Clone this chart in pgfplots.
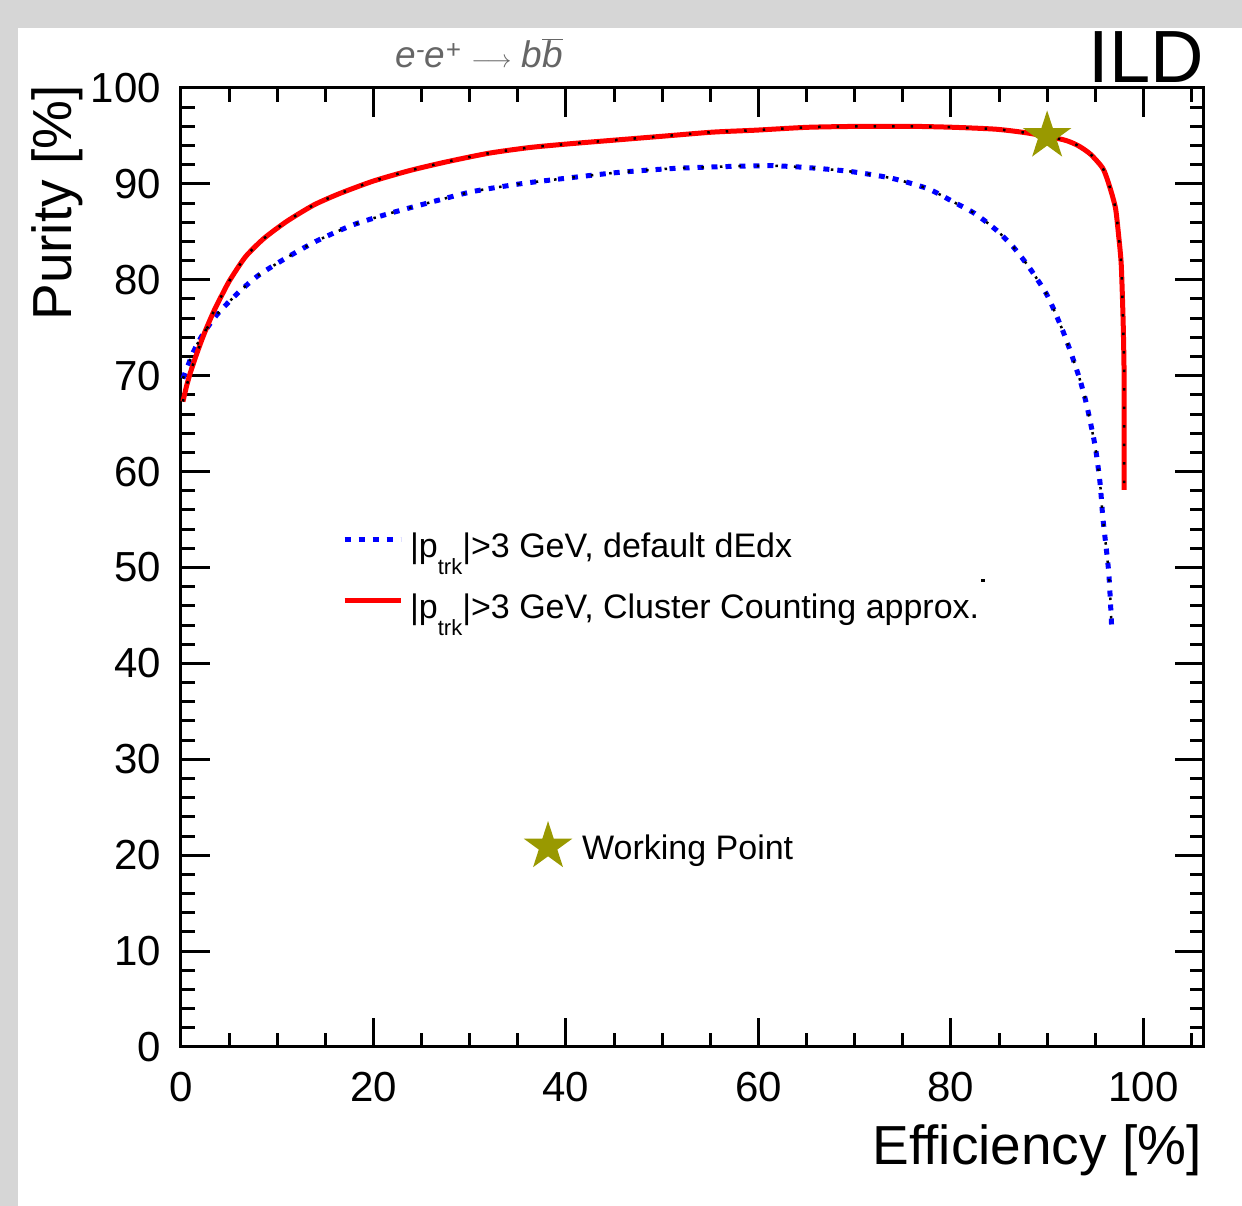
\documentclass[border=0pt]{standalone}
\usepackage{fontspec}
\setmainfont{Liberation Sans}
\usepackage{pgfplots}
\usepackage{pgfplotstable}
\pgfplotsset{compat=1.18}

\definecolor{framegray}{RGB}{214,214,214}
\definecolor{wpolive}{RGB}{153,153,0}
\definecolor{titlegray}{RGB}{102,102,102}

% filled five-pointed star (ROOT marker 29)
\pgfdeclareplotmark{fstar}{%
  \pgfpathmoveto{\pgfpointpolar{90}{\pgfplotmarksize}}%
  \pgfpathlineto{\pgfpointpolar{126}{0.382\pgfplotmarksize}}%
  \pgfpathlineto{\pgfpointpolar{162}{\pgfplotmarksize}}%
  \pgfpathlineto{\pgfpointpolar{198}{0.382\pgfplotmarksize}}%
  \pgfpathlineto{\pgfpointpolar{234}{\pgfplotmarksize}}%
  \pgfpathlineto{\pgfpointpolar{270}{0.382\pgfplotmarksize}}%
  \pgfpathlineto{\pgfpointpolar{306}{\pgfplotmarksize}}%
  \pgfpathlineto{\pgfpointpolar{342}{0.382\pgfplotmarksize}}%
  \pgfpathlineto{\pgfpointpolar{18}{\pgfplotmarksize}}%
  \pgfpathlineto{\pgfpointpolar{54}{0.382\pgfplotmarksize}}%
  \pgfpathclose\pgfusepathqfill}

% |p_trk|>3 GeV, default dEdx
\pgfplotstableread{
eff pur
0.2 69.7
1.3 72.5
2.2 74.2
3.3 75.8
4.2 76.9
6.1 78.8
8.1 80.5
10.8 82.2
14.0 84.0
17.8 85.7
21.6 86.9
26.0 88.1
30.3 89.2
35.2 90.0
40.1 90.6
45.5 91.2
51.0 91.6
56.4 91.8
61.3 91.9
65.1 91.7
69.5 91.3
73.8 90.6
77.6 89.5
80.3 88.1
82.5 86.9
84.7 85.2
86.5 83.4
88.2 81.2
90.0 78.4
91.5 75.0
92.4 72.6
93.4 69.6
94.1 67.0
95.0 62.6
95.5 58.8
95.8 55.1
96.4 49.5
96.7 43.9
}\dedx

% |p_trk|>3 GeV, Cluster Counting approx.
\pgfplotstableread{
eff pur
0.2 67.3
0.6 69.0
1.0 70.4
1.5 71.9
2.0 73.3
2.5 74.6
3.4 76.7
4.4 78.7
5.1 80.0
6.7 82.4
8.6 84.3
11.0 86.1
13.8 87.8
16.5 89.0
20.0 90.3
23.8 91.4
27.6 92.3
32.0 93.2
36.3 93.8
40.6 94.2
45.5 94.6
50.4 95.0
55.3 95.4
59.7 95.6
65.1 95.9
70.6 96.0
76.0 96.0
80.3 95.9
84.7 95.7
88.0 95.3
91.7 94.6
93.2 94.0
94.5 93.1
95.8 91.6
96.5 89.7
97.1 87.5
97.4 84.9
97.7 81.6
97.9 75.6
98.0 70.0
98.0 62.6
98.0 58.1
}\clucount

\begin{document}
\begin{tikzpicture}
\fill[framegray] (-181pt,-159pt) rectangle (1061pt,1047pt);
\fill[white] (-163pt,-159pt) rectangle (1061pt,1019pt);
\begin{axis}[
  at={(0pt,0pt)}, anchor=south west,
  scale only axis,
  width=1023pt, height=959pt,
  xmin=0, xmax=106.3, ymin=0, ymax=100,
  clip=false,
  xtick={0,20,...,100}, ytick={0,10,...,100},
  minor xtick={5,10,...,105}, minor ytick={2,4,...,98},
  tick align=inside,
  major tick length=29pt, minor tick length=14pt,
  tick style={line width=3pt, black},
  axis line style={line width=3pt},
  /pgf/number format/assume math mode=true,
  xticklabel style={font=\fontsize{42}{42}\selectfont, anchor=north, inner sep=0pt, yshift=-25pt},
  yticklabel style={font=\fontsize{42}{42}\selectfont, anchor=east, inner sep=0pt, xshift=-20pt},
  xlabel={Efficiency [\%]},
  xlabel style={at={(rel axis cs:0.998,-0.123)}, anchor=base east, inner sep=0pt, font=\fontsize{55}{55}\selectfont},
  ylabel={Purity [\%]},
  ylabel style={at={(rel axis cs:-0.1075,1.003)}, anchor=base east, inner sep=0pt, font=\fontsize{55}{55}\selectfont},
  legend style={at={(axis cs:16.74,53.8)}, anchor=north west, draw=none, fill=none,
    inner sep=0pt, outer sep=0pt, row sep=21pt, column sep=7pt,
    font=\fontsize{34}{34}\selectfont,
    nodes={inner sep=0pt, text height=26pt, text depth=14pt}},
  legend cell align=left,
  legend image code/.code={\draw[#1] (0pt,12pt) -- (56pt,12pt);},
]
\addplot[blue, line width=5pt, dash pattern=on 6pt off 8pt, smooth, tension=0.4, no markers] table[x=eff, y=pur] {\dedx};
\addlegendentry{|p\raisebox{-0.95ex}{\fontsize{22}{22}\selectfont trk}|>3 GeV, default dEdx}
\addplot[red, line width=5pt, line join=round, smooth, tension=0.4, no markers] table[x=eff, y=pur] {\clucount};
\addlegendentry{|p\raisebox{-0.95ex}{\fontsize{22}{22}\selectfont trk}|>3 GeV, Cluster Counting approx.}
\addplot[black, line width=2.5pt, dash pattern=on 2.5pt off 16pt, smooth, tension=0.4, no markers, forget plot] table[x=eff, y=pur] {\dedx};
\addplot[black, line width=2.5pt, dash pattern=on 2.5pt off 16pt, smooth, tension=0.4, no markers, forget plot] table[x=eff, y=pur] {\clucount};
\addplot[only marks, mark=square*, mark size=1.2pt, black, forget plot] coordinates {(83.3,48.7)};
% working point marker on the curve and in its own legend
\addplot[only marks, mark=fstar, mark size=25.5pt, mark options={fill=wpolive}, forget plot] coordinates {(90,95) (38.14,20.9)};
\node[anchor=base west, inner sep=0pt, font=\fontsize{34}{34}\selectfont] at (axis cs:41.67,19.5) {Working Point};
\node[anchor=base west, inner sep=0pt, text=titlegray, font=\fontsize{37}{37}\selectfont\itshape] at (axis cs:22.24,102.1) {e\textsuperscript{-}e\textsuperscript{+} $\longrightarrow$ b$\overline{\mbox{b}}$};
\node[anchor=base east, inner sep=0pt, font=\fontsize{74}{74}\selectfont] at (axis cs:106.3,100.6) {ILD};
\end{axis}
\pgfresetboundingbox
\useasboundingbox (-181pt,-159pt) rectangle (1061pt,1047pt);
\end{tikzpicture}
\end{document}
